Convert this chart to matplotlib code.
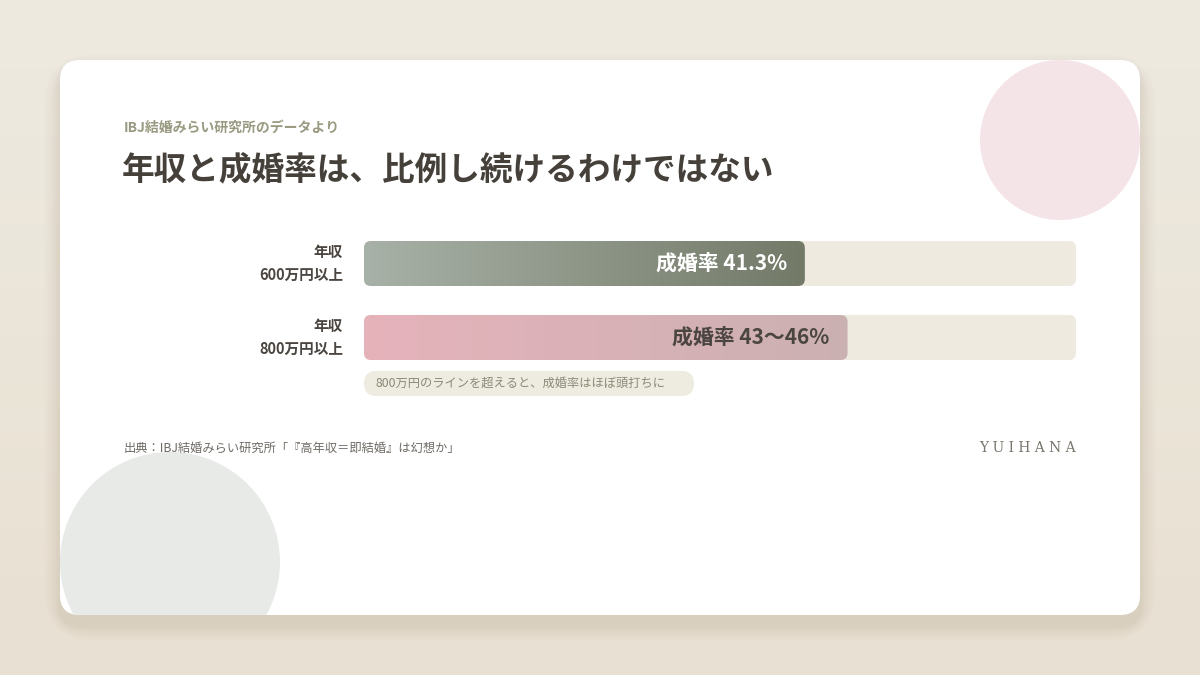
import numpy as np
import matplotlib
matplotlib.use("Agg")
import matplotlib.pyplot as plt
from matplotlib.patches import FancyBboxPatch, Circle
from matplotlib.colors import LinearSegmentedColormap

plt.rcParams['font.family'] = ['Noto Sans CJK JP', 'DejaVu Sans']

categories = ["年収\n600万円以上", "年収\n800万円以上"]
values = [41.3, 45.3]
value_labels = ["成婚率 41.3%", "成婚率 43〜46%"]
axis_max = 66.7

W, H = 1200, 675
fig = plt.figure(figsize=(12, 6.75), dpi=100)
bg = fig.add_axes([0, 0, 1, 1])
bg.set_xlim(0, W); bg.set_ylim(H, 0); bg.axis('off')
grad = np.linspace(0, 1, 256).reshape(-1, 1)
bg.imshow(grad, extent=[0, W, H, 0], aspect='auto',
          cmap=LinearSegmentedColormap.from_list('b', ['#eeeae0', '#e8e0d2']), zorder=0)
# shadow
for i, a in enumerate(np.linspace(0.02, 0.006, 8)):
    s = 4 + i * 4
    bg.add_patch(FancyBboxPatch((60 - s / 2, 70 - s / 2), 1080 + s, 555 + s,
                                boxstyle="round,pad=0,rounding_size=%d" % (20 + s),
                                fc='#6a5a40', ec='none', alpha=a, zorder=1))
card = FancyBboxPatch((60, 60), 1080, 555, boxstyle="round,pad=0,rounding_size=20",
                      fc='white', ec='none', zorder=2)
bg.add_patch(card)
c1 = Circle((1060, 140), 80, fc='#f5e4e7', ec='none', zorder=3); bg.add_patch(c1); c1.set_clip_path(card)
c2 = Circle((170, 562), 110, fc='#e8eae8', ec='none', zorder=3); bg.add_patch(c2); c2.set_clip_path(card)

bg.text(124, 128, "IBJ結婚みらい研究所のデータより", fontsize=10, color='#9a9a82',
        fontweight='bold', va='center', zorder=5)
bg.text(122, 170, "年収と成婚率は、比例し続けるわけではない", fontsize=23.5, color='#45403a',
        fontweight='bold', va='center', zorder=5)
for i, c in enumerate(categories):
    bg.text(343, 263.5 + 74 * i, c, fontsize=10.5, color='#4a4540', fontweight='bold',
            ha='right', va='center', linespacing=1.5, zorder=5)
bg.add_patch(FancyBboxPatch((364, 371), 330, 25, boxstyle="round,pad=0,rounding_size=12.5",
                            fc='#eeece1', ec='none', zorder=4))
bg.text(376, 383.5, "800万円のラインを超えると、成婚率はほぼ頭打ちに", fontsize=8.8,
        color='#8a8a78', va='center', zorder=5)
bg.text(124, 448, "出典：IBJ結婚みらい研究所「『高年収＝即結婚』は幻想か」", fontsize=8.8,
        color='#6e6a64', va='center', zorder=5)
bg.text(1076, 448, "Y U I H A N A", fontsize=10, color='#7a766e', family='DejaVu Serif',
        ha='right', va='center', zorder=5)

ax = fig.add_axes([364 / W, 1 - 360 / H, 712 / W, 119 / H])
ax.set_xlim(0, axis_max); ax.set_ylim(1.304, -0.304); ax.axis('off')
ax.patch.set_alpha(0)
bh = 45 / 74
rx = 7 * axis_max / 712
asp = (7 / 74) / rx
cmaps = [LinearSegmentedColormap.from_list('g', ['#a8b1a7', '#737a68']),
         LinearSegmentedColormap.from_list('p', ['#e6b3bb', '#cbb0b2'])]
tcol = ['white', '#4a4540']
for i, v in enumerate(values):
    ax.add_patch(FancyBboxPatch((0, i - bh / 2), axis_max, bh,
                                boxstyle="round,pad=0,rounding_size=%f" % rx,
                                mutation_aspect=asp, fc='#eeeae0', ec='none', zorder=1))
    p = FancyBboxPatch((0, i - bh / 2), v, bh, boxstyle="round,pad=0,rounding_size=%f" % rx,
                       mutation_aspect=asp, fc='none', ec='none', zorder=2)
    ax.add_patch(p)
    im = ax.imshow(np.linspace(0, 1, 256).reshape(1, -1), extent=[0, v, i + bh / 2, i - bh / 2],
                   aspect='auto', cmap=cmaps[i], zorder=2)
    im.set_clip_path(p)
    ax.text(v - 18 * axis_max / 712, i, value_labels[i], fontsize=15, color=tcol[i],
            fontweight='bold', ha='right', va='center', zorder=3)
ax.set_xlim(0, axis_max); ax.set_ylim(1.304, -0.304)
fig.savefig("out.png", dpi=100)
